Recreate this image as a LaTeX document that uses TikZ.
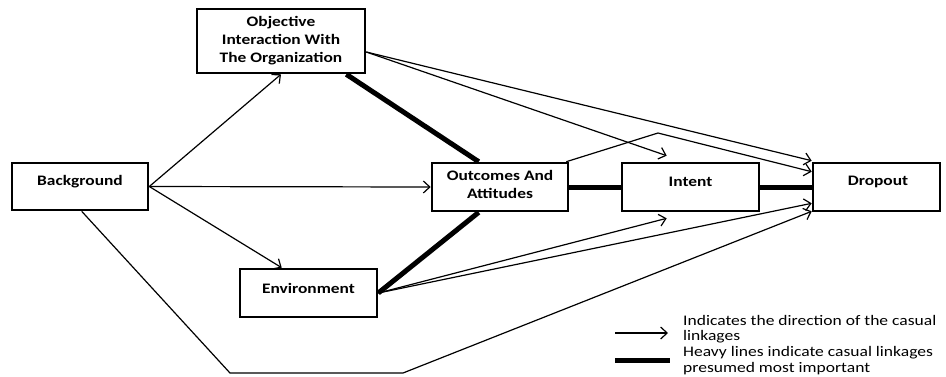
\documentclass[tikz,border=0pt]{standalone}
\usepackage{fontspec}
\newfontfamily\boxfont[FakeStretch=1.2]{Carlito}
\usetikzlibrary{arrows.meta}
\tikzset{
  boxrect/.style={draw, line width=2.6pt, inner sep=0pt},
  boxtext/.style={font=\boxfont\bfseries\fontsize{14.5}{18}\selectfont, align=center, inner sep=0pt},
  thinarrow/.style={line width=1.2pt, -{Straight Barb[length=6.5pt,width=12pt,line width=1.2pt]}},
  heavy/.style={line width=5pt},
  legendtext/.style={font=\boxfont\fontsize{14.6}{15.6}\selectfont, align=left, inner sep=0pt, anchor=north west}
}
\begin{document}
\begin{tikzpicture}[x=1pt,y=-1pt]
\useasboundingbox (0,0) rectangle (946,376);
% boxes
\node[boxrect, minimum width=168pt, minimum height=64pt] (obj) at (281,41) {};
\node[boxrect, minimum width=136pt, minimum height=47pt] (bg) at (80,186.5) {};
\node[boxrect, minimum width=136pt, minimum height=48pt] (out) at (500,187) {};
\node[boxrect, minimum width=137pt, minimum height=48pt] (int) at (690.5,187) {};
\node[boxrect, minimum width=127pt, minimum height=48pt] (drop) at (876.5,187) {};
\node[boxrect, minimum width=137pt, minimum height=48pt] (env) at (308.5,293) {};
% box texts
\node[boxtext] (objt) at (281,41) {Objective\\Interaction With\\The Organization};
\node[boxtext] (bgt) at (80,182) {Background};
\node[boxtext] (outt) at (500,184.5) {Outcomes And\\Attitudes};
\node[boxtext] (intt) at (690.5,182) {Intent};
\node[boxtext] (dropt) at (878,182) {Dropout};
\node[boxtext] (envt) at (308.5,288) {Environment};
% helper coordinates
\coordinate (c1) at (230,373);
\coordinate (c2) at (403,373);
\coordinate (pk) at (658,133);
% heavy lines
\draw[heavy] ([xshift=-20pt]obj.south east) -- ([xshift=48pt]out.north west);
\draw[heavy] (env.east) -- ([xshift=48pt]out.south west);
\draw[heavy] (out.east) -- (int.west);
\draw[heavy] (int.east) -- (drop.west);
% thin arrows
\draw[thinarrow] (bg.east) -- (obj.south);
\draw[thinarrow] (bg.east) -- (out.west);
\draw[thinarrow] (bg.east) -- ([xshift=43pt]env.north west);
\draw[thinarrow] ([xshift=71pt]bg.south west) -- (c1) -- (c2) -- ([yshift=1pt]drop.south west);
\draw[thinarrow] ([yshift=-11pt]obj.east) -- ([yshift=1pt]drop.north west);
\draw[thinarrow] ([yshift=-11pt]obj.east) -- ([xshift=46pt,yshift=6pt]int.north west);
\draw[thinarrow] ([xshift=-3pt]out.north east) -- (pk) -- ([yshift=-10pt]drop.north west);
\draw[thinarrow] (env.east) -- ([xshift=46pt,yshift=-6pt]int.south west);
\draw[thinarrow] (env.east) -- ([yshift=9pt]drop.south west);
% legend
\coordinate (la1) at (615,333);
\coordinate (la2) at (668,333);
\coordinate (lb1) at (615,360);
\coordinate (lb2) at (670,360);
\draw[thinarrow] (la1) -- (la2);
\draw[heavy] (lb1) -- (lb2);
\node[legendtext] (leg) at (683,315) {Indicates the direction of the casual\\linkages\\Heavy lines indicate casual linkages\\presumed most important};
\end{tikzpicture}
\end{document}
